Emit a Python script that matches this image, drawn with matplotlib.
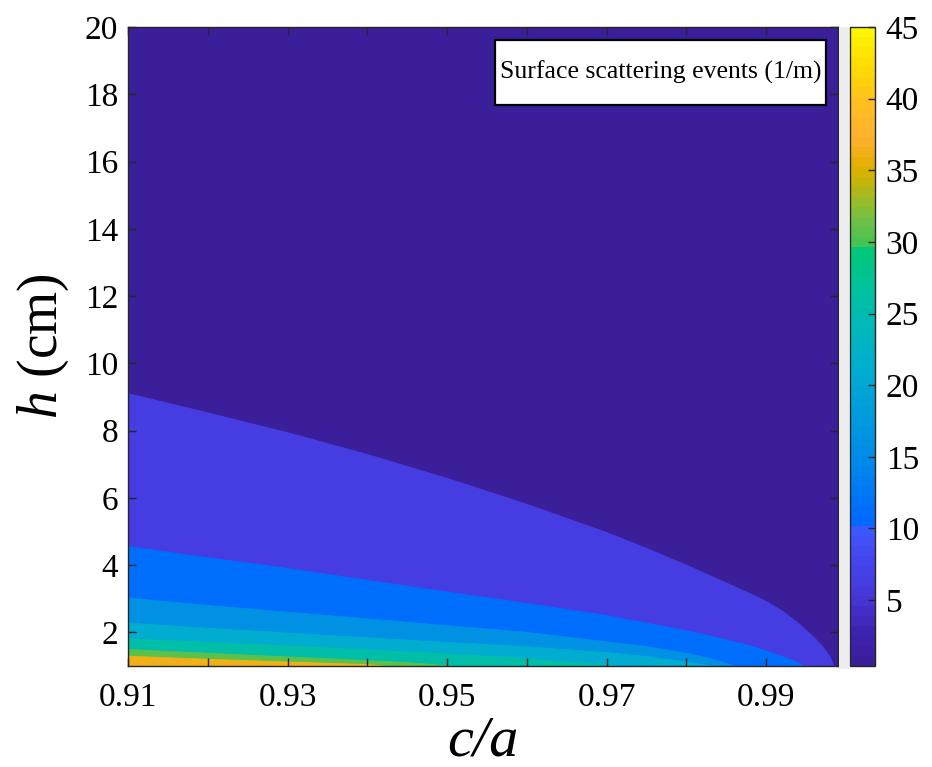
import numpy as np
import matplotlib
matplotlib.use("Agg")
import matplotlib.pyplot as plt
from matplotlib.colors import LinearSegmentedColormap, Normalize
from matplotlib.cm import ScalarMappable
from matplotlib.patches import Rectangle

plt.rcParams['font.family'] = ['Liberation Serif', 'DejaVu Serif']
plt.rcParams['mathtext.fontset'] = 'custom'
plt.rcParams['mathtext.it'] = 'Liberation Serif:italic'
plt.rcParams['mathtext.rm'] = 'Liberation Serif'

# ---- data ----
# contour levels (1/m) and the h (cm) where each level line sits, per c/a
levels = [5, 10, 15, 20, 25, 30, 35]
x5 = [0.91, 0.92, 0.93, 0.94, 0.95, 0.96, 0.97, 0.975, 0.98, 0.985, 0.988, 0.99,
      0.992, 0.994, 0.996, 0.997, 0.998, 0.9985]
h5 = [9.10, 8.53, 7.94, 7.29, 6.58, 5.81, 4.97, 4.50, 4.00, 3.47, 3.15, 2.92,
      2.64, 2.28, 1.85, 1.60, 1.28, 1.0]
x10 = [0.91, 0.92, 0.93, 0.94, 0.95, 0.96, 0.97, 0.98, 0.985, 0.988, 0.99, 0.992, 0.9935, 0.9947]
h10 = [4.55, 4.22, 3.90, 3.55, 3.20, 2.86, 2.50, 2.05, 1.78, 1.60, 1.45, 1.28, 1.15, 1.0]
x15 = [0.91, 0.92, 0.93, 0.94, 0.95, 0.96, 0.97, 0.975, 0.98, 0.983, 0.986]
h15 = [3.02, 2.80, 2.60, 2.40, 2.20, 2.00, 1.72, 1.58, 1.38, 1.22, 1.0]
x20 = [0.91, 0.92, 0.93, 0.94, 0.95, 0.96, 0.97, 0.975, 0.98, 0.983]
h20 = [2.28, 2.12, 1.98, 1.84, 1.70, 1.57, 1.40, 1.28, 1.12, 1.0]
x25 = [0.91, 0.92, 0.93, 0.94, 0.95, 0.96, 0.965, 0.971]
h25 = [1.81, 1.70, 1.60, 1.48, 1.36, 1.22, 1.12, 1.0]
x30 = [0.91, 0.92, 0.93, 0.94, 0.945, 0.9505]
h30 = [1.49, 1.38, 1.27, 1.16, 1.10, 1.0]
x35 = [0.91, 0.92, 0.93, 0.94, 0.942]
h35 = [1.29, 1.20, 1.12, 1.04, 1.0]
lines_x = [x5, x10, x15, x20, x25, x30, x35]
lines_h = [h5, h10, h15, h20, h25, h30, h35]

xlim = (0.91, 0.999)
ylim = (1.0, 20.0)
clim = (0.4, 45.0)
xticks = [0.91, 0.92, 0.93, 0.94, 0.95, 0.96, 0.97, 0.98, 0.99]
xticklabels = ['0.91', '', '0.93', '', '0.95', '', '0.97', '', '0.99']
yticks = [2, 4, 6, 8, 10, 12, 14, 16, 18, 20]
cticks = [5, 10, 15, 20, 25, 30, 35, 40, 45]

# colormap taken from the colour bar (value, colour)
anchors = [(0.4, '#3A1E9A'), (2.5, '#3D24B0'), (5, '#4636D8'), (8, '#4448F0'),
           (9.8, '#3A5AFF'), (10.2, '#0068FF'), (12, '#0076F8'), (15, '#008CE8'),
           (18, '#009CDC'), (21, '#00ACD0'), (24, '#00B8BC'), (27, '#00C29C'),
           (29.6, '#00C878'), (29.9, '#40C452'), (31.5, '#6CC048'), (33, '#98BC28'),
           (34.5, '#C8B408'), (35.5, '#E4B000'), (37.5, '#FFB030'), (40, '#FFC020'),
           (42.5, '#FFDA00'), (45, '#FFF500')]
norm = Normalize(*clim)
cmap = LinearSegmentedColormap.from_list(
    'cb', [(norm(v), c) for v, c in anchors], N=64)

fig = plt.figure(figsize=(9.32, 7.67), dpi=100)
ax = fig.add_axes([0.1373, 0.1317, 0.7618, 0.8331])

# lowest band fills the whole axes, higher bands painted on top
ax.fill_between(xlim, ylim[0], ylim[1], color=cmap(norm(1)), lw=0)
for lev, lx, lh in zip(levels, lines_x, lines_h):
    lx = np.array(lx)
    lh = np.array(lh)
    px = np.r_[lx, lx[-1], lx[0]]
    py = np.r_[lh, ylim[0], ylim[0]]
    col = cmap(norm(lev + 1))
    ax.fill(px, py, color=col, lw=0.6, ec=col)

ax.set_xlim(*xlim)
ax.set_ylim(*ylim)
ax.set_xticks(xticks)
ax.set_xticklabels(xticklabels)
ax.set_yticks(yticks)
ax.tick_params(direction='in', top=True, right=True, length=6, width=1,
               color='#262626', labelsize=24)
ax.tick_params(axis='x', pad=12)
ax.tick_params(axis='y', pad=7)
for s in ax.spines.values():
    s.set_color('#262626')
    s.set_linewidth(1)

ax.set_xlabel('c/a', fontsize=42, fontstyle='italic', labelpad=2)
ax.set_ylabel('$h$ (cm)', fontsize=40, labelpad=10)

# legend-like box in the top right
ax.add_patch(Rectangle((0.517, 0.878), 0.466, 0.1017, transform=ax.transAxes,
                       fc='white', ec='black', lw=1.6, zorder=5))
ax.text(0.750, 0.929, 'Surface scattering events (1/m)', transform=ax.transAxes,
        ha='center', va='center', fontsize=18.5, zorder=6)

# light grey strip between axes and colour bar
fig.patches.append(Rectangle((0.9005, 0.128), 0.010, 0.837, transform=fig.transFigure,
                             fc='#EDEDED', ec='none'))

cax = fig.add_axes([0.9125, 0.1317, 0.026, 0.8331])
cb = fig.colorbar(ScalarMappable(norm=norm, cmap=cmap), cax=cax)
cb.set_ticks(cticks)
cb.ax.tick_params(direction='in', length=5, width=1, color='#262626',
                  labelsize=24, pad=8)
cb.outline.set_edgecolor('#262626')
cb.outline.set_linewidth(1)

fig.savefig('out.png', dpi=100)
